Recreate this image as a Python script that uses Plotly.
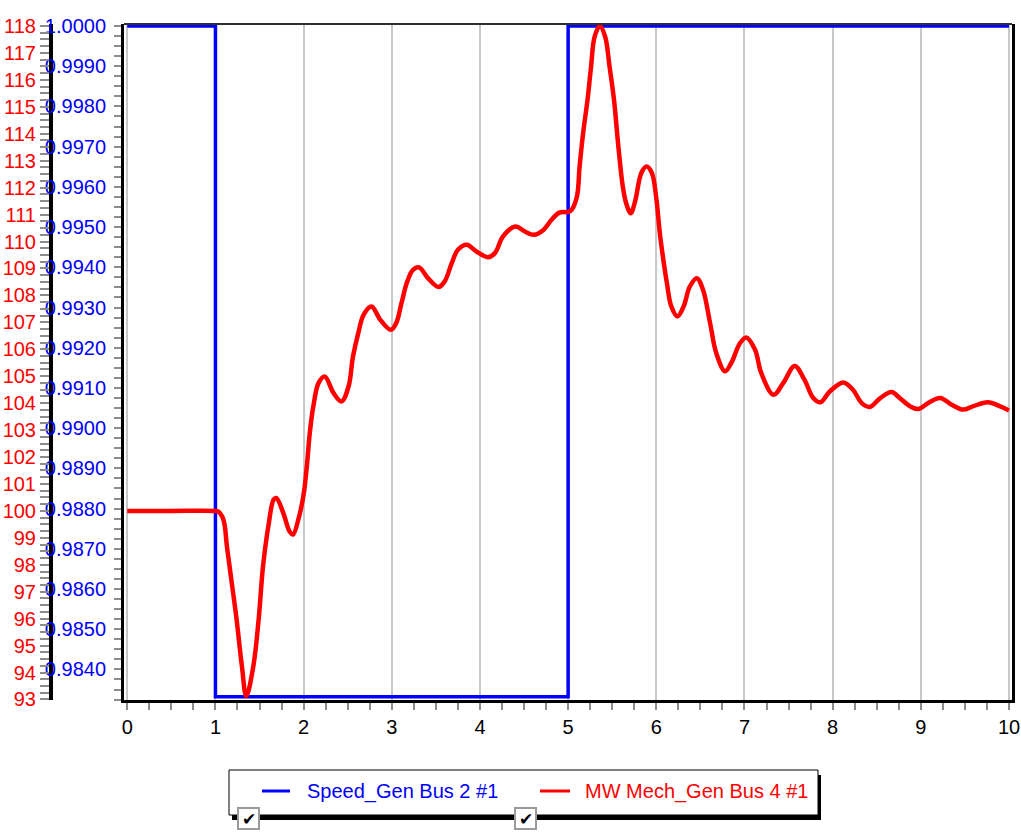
import plotly.graph_objects as go

# ---- data -------------------------------------------------------------
series_names = ["Speed_Gen Bus 2 #1", "MW Mech_Gen Bus 4 #1"]

# generator speed (pu), stepwise
speed_time = [0.0, 1.0, 5.0, 10.0]
speed_pu = [1.0, 0.98332, 1.0, 1.0]

# mechanical power (MW)
mw_time = [0.0, 0.5, 1.0, 1.03, 1.09, 1.13, 1.18, 1.24, 1.30, 1.35, 1.43, 1.49,
           1.54, 1.60, 1.66, 1.69, 1.77, 1.84, 1.88, 1.94, 2.00, 2.04, 2.07,
           2.11, 2.17, 2.24, 2.34, 2.43, 2.51, 2.56, 2.62, 2.68, 2.77, 2.87,
           2.99, 3.05, 3.11, 3.17, 3.24, 3.31, 3.41, 3.53, 3.60, 3.68, 3.75,
           3.85, 3.96, 4.09, 4.17, 4.26, 4.40, 4.51, 4.61, 4.72, 4.81, 4.90,
           5.00, 5.04, 5.10, 5.13, 5.17, 5.22, 5.26, 5.30, 5.36, 5.42, 5.47,
           5.52, 5.57, 5.62, 5.66, 5.71, 5.76, 5.83, 5.89, 5.95, 6.00, 6.04,
           6.08, 6.12, 6.17, 6.24, 6.31, 6.38, 6.46, 6.53, 6.61, 6.68, 6.78,
           6.85, 6.95, 7.02, 7.12, 7.19, 7.33, 7.44, 7.57, 7.68, 7.78, 7.86,
           7.97, 8.12, 8.23, 8.33, 8.42, 8.54, 8.67, 8.76, 8.88, 8.97, 9.08,
           9.22, 9.35, 9.48, 9.59, 9.76, 9.90, 10.0]
mw_value = [100.0, 100.0, 100.0, 99.98, 99.68, 98.69, 97.45, 95.97, 94.24, 93.12,
            94.24, 95.97, 97.95, 99.43, 100.42, 100.48, 99.92, 99.24, 99.12,
            99.68, 100.6, 101.78, 102.89, 103.88, 104.75, 104.99, 104.37,
            104.06, 104.62, 105.73, 106.6, 107.28, 107.59, 107.09, 106.72,
            106.97, 107.71, 108.46, 108.95, 109.04, 108.64, 108.31, 108.52,
            109.2, 109.69, 109.88, 109.63, 109.42, 109.57, 110.18, 110.56,
            110.37, 110.25, 110.43, 110.8, 111.07, 111.1, 111.18, 111.67,
            112.78, 114.02, 115.26, 116.49, 117.6, 118.0, 117.6, 116.49,
            115.26, 113.52, 112.04, 111.4, 111.05, 111.5, 112.54, 112.78,
            112.54, 111.6, 110.31, 109.32, 108.46, 107.59, 107.22, 107.59,
            108.33, 108.64, 108.21, 106.97, 105.86, 105.18, 105.49, 106.23,
            106.44, 105.98, 105.12, 104.31, 104.75, 105.38, 104.87, 104.19,
            104.03, 104.44, 104.77, 104.5, 104.0, 103.86, 104.19, 104.41,
            104.19, 103.88, 103.78, 104.0, 104.19, 103.94, 103.76, 103.88,
            104.03, 103.88, 103.73]

BLUE = "#0000ff"
RED = "#ff0000"
FONT = "Liberation Sans, Arial, sans-serif"

# ---- page geometry (pixels) -------------------------------------------
W, H = 1021, 833
ML, MR, MT, MB = 10, 9, 24, 133
PW, PH = W - ML - MR, H - MT - MB


def px(x):
    return (x - ML) / PW


def py(y):
    return (H - MB - y) / PH


fig = go.Figure()

fig.add_trace(go.Scatter(
    x=speed_time, y=speed_pu, mode="lines", name=series_names[0],
    line=dict(color=BLUE, width=3.5, shape="hv"), yaxis="y", showlegend=False,
    hoverinfo="skip"))

fig.add_trace(go.Scatter(
    x=mw_time, y=mw_value, mode="lines", name=series_names[1],
    line=dict(color=RED, width=4.5, shape="spline", smoothing=1.0), yaxis="y2",
    showlegend=False, hoverinfo="skip"))

tick_grey = "#8c8c8c"

fig.update_layout(
    width=W, height=H,
    margin=dict(l=ML, r=MR, t=MT, b=MB, autoexpand=False),
    paper_bgcolor="white", plot_bgcolor="white",
    font=dict(family=FONT, size=20),
    xaxis=dict(
        domain=[px(124), 1], range=[-0.037, 10.034], automargin=False,
        dtick=1, tick0=0, showgrid=True, gridcolor="#c8c8c8", gridwidth=2,
        zeroline=False, showline=True, linecolor="black", linewidth=3,
        ticks="outside", ticklen=7, tickwidth=2, tickcolor=tick_grey,
        minor=dict(dtick=0.25, ticks="outside", ticklen=7, tickwidth=2,
                   tickcolor=tick_grey, showgrid=False),
        tickfont=dict(color="black", size=20),
    ),
    yaxis=dict(
        range=[0.98324, 1.00005], dtick=0.001, tick0=1.0, tickformat=".4f",
        automargin=False, ticklabelstandoff=4,
        showgrid=False, zeroline=False, showline=True, linecolor="black",
        linewidth=3, mirror=True,
        ticks="outside", ticklen=7, tickwidth=2, tickcolor=tick_grey,
        minor=dict(dtick=0.00025, ticks="outside", ticklen=7, tickwidth=2,
                   tickcolor=tick_grey),
        tickfont=dict(color=BLUE, size=20),
    ),
    yaxis2=dict(
        overlaying="y", anchor="free", position=px(51), side="left",
        range=[92.98, 118.074], dtick=1, tick0=93, automargin=False,
        showgrid=False, zeroline=False, showline=True, linecolor="black",
        linewidth=4,
        ticks="outside", ticklen=9, tickwidth=2, tickcolor=tick_grey,
        minor=dict(dtick=0.25, ticks="outside", ticklen=9, tickwidth=2,
                   tickcolor=tick_grey),
        tickfont=dict(color=RED, size=20),
    ),
)

shapes = []
# thin top border of the plot frame
shapes.append(dict(type="line", xref="x domain", yref="y domain",
                   x0=0, x1=1, y0=1, y1=1, line=dict(color="#303030", width=2)))

# legend panel with drop shadow
shapes.append(dict(type="rect", xref="paper", yref="paper",
                   x0=px(232), x1=px(821), y0=py(775), y1=py(820),
                   fillcolor="black", line=dict(width=0), layer="above"))
shapes.append(dict(type="rect", xref="paper", yref="paper",
                   x0=px(229), x1=px(818), y0=py(770), y1=py(815),
                   fillcolor="white", line=dict(color="black", width=1),
                   layer="above"))

legend_items = [
    (series_names[0], BLUE, 262, 290, 305, 238),
    (series_names[1], RED, 540, 570, 583, 515),
]
annotations = []
for name, color, lx0, lx1, tx, cbx in legend_items:
    shapes.append(dict(type="line", xref="paper", yref="paper",
                       x0=px(lx0), x1=px(lx1), y0=py(791), y1=py(791),
                       line=dict(color=color, width=3), layer="above"))
    annotations.append(dict(xref="paper", yref="paper", x=px(tx), y=py(791),
                            xanchor="left", yanchor="middle", showarrow=False,
                            text=name, font=dict(color=color, size=20,
                                                 family=FONT)))
    shapes.append(dict(type="rect", xref="paper", yref="paper",
                       x0=px(cbx), x1=px(cbx + 21), y0=py(808), y1=py(829),
                       fillcolor="white", line=dict(color="#9a9a9a", width=2),
                       layer="above"))
    annotations.append(dict(xref="paper", yref="paper", x=px(cbx + 10.5),
                            y=py(818.5), xanchor="center", yanchor="middle",
                            showarrow=False, text="✔",
                            font=dict(color="black", size=17,
                                      family="DejaVu Sans")))

fig.update_layout(shapes=shapes, annotations=annotations)

fig.write_html("out.html")
